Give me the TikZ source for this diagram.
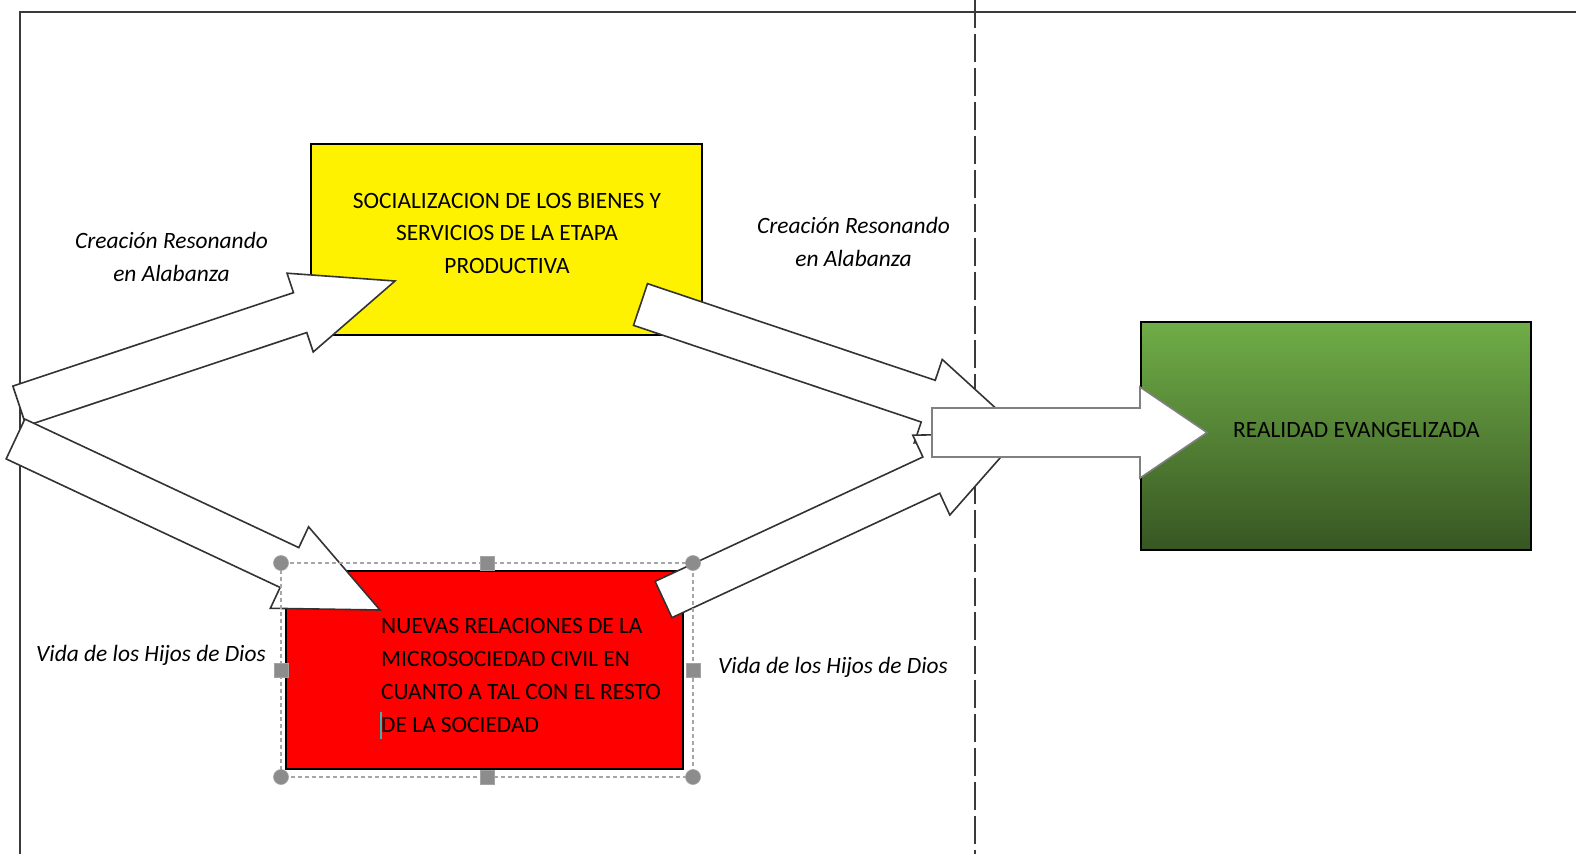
\documentclass[tikz,border=0pt]{standalone}
\usepackage{fontspec}
\setmainfont{Carlito}
\usetikzlibrary{calc}
\definecolor{framegray}{HTML}{3A3A3A}
\definecolor{arrowgray}{HTML}{333333}
\definecolor{handlegray}{HTML}{8C8C8C}
\definecolor{selgray}{HTML}{A6A6A6}
\definecolor{greentop}{HTML}{70AD47}
\definecolor{greenbot}{HTML}{375623}
\definecolor{cursorcol}{HTML}{3CB4B4}
\newcommand\blockarrow[6][]{%
  \draw[blockarrow,#1]
    ($(#2)!#4!90:(#3)$) --
    ($(#3)!#6!(#2)!#4!90:(#3)$) --
    ($(#3)!#6!(#2)!#5!90:(#3)$) --
    (#3) --
    ($(#3)!#6!(#2)!#5!-90:(#3)$) --
    ($(#3)!#6!(#2)!#4!-90:(#3)$) --
    ($(#2)!#4!-90:(#3)$) -- cycle;}
\begin{document}
\begin{tikzpicture}[x=1bp,y=-1bp,
  blockarrow/.style={draw=arrowgray,fill=white,line width=1.6bp,line join=miter},
  box/.style={draw=black,line width=1.6bp,inner sep=0pt},
  lbl/.style={inner sep=0pt,anchor=base,font=\fontsize{23.4bp}{33bp}\selectfont\itshape},
  boxtxt/.style={inner sep=0pt,anchor=base,font=\fontsize{23.4bp}{32.5bp}\selectfont},
  handle/.style={fill=handlegray,draw=handlegray!80!white,line width=0.6bp}]
\useasboundingbox (0,0) rectangle (1576,854);
% frame and separator
\draw[framegray,line width=2bp] (20,854) coordinate (fbl) -- (20,12) coordinate (ftl) -- (1576,12) coordinate (ftr);
\draw[framegray,line width=1.8bp,dash pattern=on 28bp off 6bp] (975,0) coordinate (dtop) -- (975,854) coordinate (dbot);
% boxes
\node[box,fill=yellow,minimum width=391bp,minimum height=191bp] (soc) at (506.5,239.5) {};
\node[box,fill=red,minimum width=397bp,minimum height=198bp] (nue) at (484.5,670) {};
\node[box,top color=greentop,bottom color=greenbot,minimum width=390bp,minimum height=228bp] (rea) at (1336,436) {};
% box texts
\node[boxtxt] (soctxt) at (507,208) {\begin{tabular}[t]{@{}c@{}}SOCIALIZACION DE LOS BIENES Y\\SERVICIOS DE LA ETAPA\\PRODUCTIVA\end{tabular}};
\node[boxtxt,font=\fontsize{23.4bp}{33.3bp}\selectfont,anchor=base west] (nuetxt) at (381,633) {\begin{tabular}[t]{@{}l@{}}NUEVAS RELACIONES DE LA\\MICROSOCIEDAD CIVIL EN\\CUANTO A TAL CON EL RESTO\\DE LA SOCIEDAD\end{tabular}};
\node[boxtxt,anchor=base west] (reatxt) at (1233,437) {REALIDAD EVANGELIZADA};
% arrow end points
\coordinate (a1t) at (19.5,406);  \coordinate (a1h) at (395,281);
\coordinate (a2t) at (15.5,439);  \coordinate (a2h) at (380,610);
\coordinate (a3t) at (640.5,304.5); \coordinate (a3h) at (1023,433);
\coordinate (a4t) at (663.5,599.5); \coordinate (a4h) at (1022,433);
\coordinate (a5t) at (932,432.5); \coordinate (a5h) at (1207,432.5);
\blockarrow{a1t}{a1h}{21bp}{41.5bp}{100bp}
\blockarrow{a2t}{a2h}{22bp}{45bp}{100bp}
\blockarrow{a3t}{a3h}{22bp}{44bp}{100bp}
\blockarrow{a4t}{a4h}{20bp}{44bp}{100bp}
\blockarrow[draw=gray]{a5t}{a5h}{24.5bp}{45.5bp}{67bp}
% labels
\node[lbl] (l1) at (171.5,248) {\begin{tabular}[t]{@{}c@{}}Creación Resonando\\en Alabanza\end{tabular}};
\node[lbl] (l2) at (853.5,233) {\begin{tabular}[t]{@{}c@{}}Creación Resonando\\en Alabanza\end{tabular}};
\node[lbl] (l3) at (151,661) {Vida de los Hijos de Dios};
\node[lbl] (l4) at (833,673) {Vida de los Hijos de Dios};
% selection frame of the red box
\draw[selgray,line width=1.3bp,dash pattern=on 4bp off 3bp] (281,563) rectangle (693,777);
\foreach \p/\n in {{281,563}/h1,{693,563}/h2,{281,777}/h3,{693,777}/h4}
  \node[handle,circle,minimum size=15bp,inner sep=0pt] (\n) at (\p) {};
\foreach \p/\n in {{487,563}/h5,{487,777}/h6,{281,670}/h7,{693,670}/h8}
  \node[handle,rectangle,minimum size=14bp,inner sep=0pt] (\n) at (\p) {};
\draw[cursorcol,line width=2bp] (381,712) coordinate (cur1) -- (381,739) coordinate (cur2);
\end{tikzpicture}
\end{document}
